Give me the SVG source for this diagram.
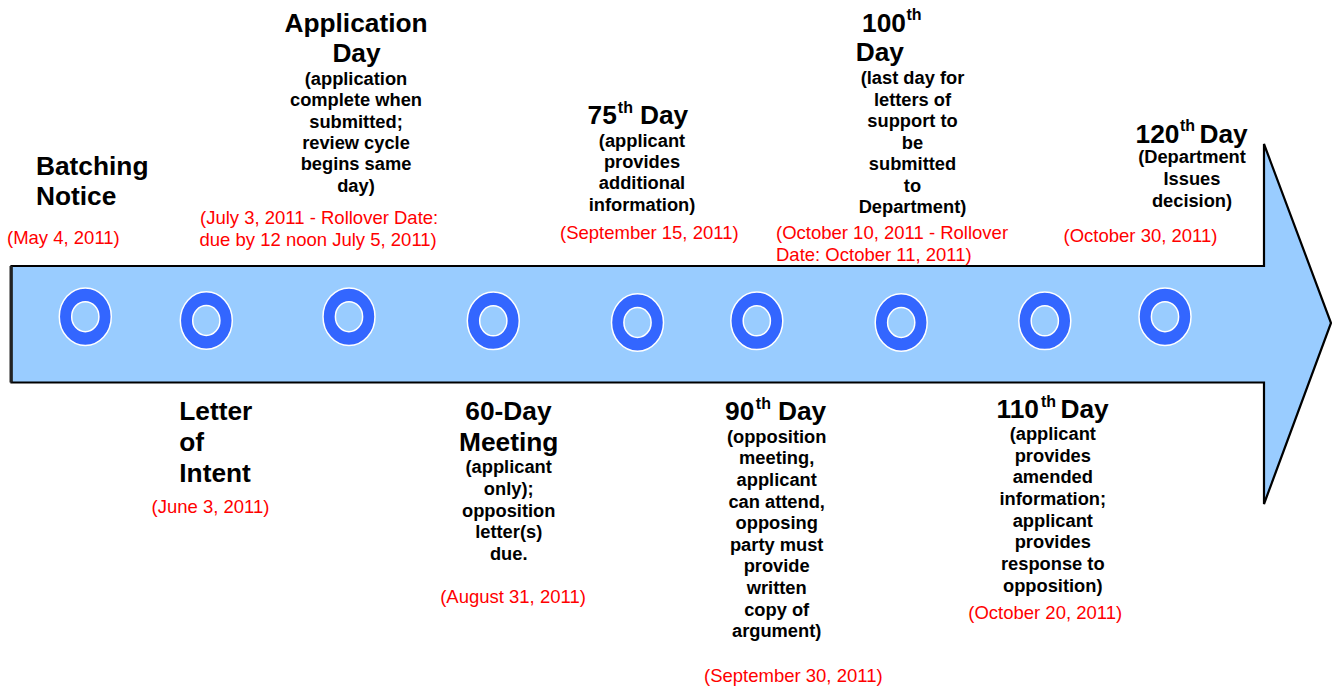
<svg xmlns="http://www.w3.org/2000/svg" width="1332" height="688" viewBox="0 0 1332 688">
<style>
text{font-family:"Liberation Sans",Arial,sans-serif;fill:#000}
.t{font-size:26.3px;font-weight:bold}
.d{font-size:18.3px;font-weight:bold;text-anchor:middle}
.r{font-size:18.5px;fill:#FF0000}
.rc{font-size:18.5px;fill:#FF0000;text-anchor:middle}
.m{text-anchor:middle}
.sup{font-size:16px;font-weight:bold}
.ring{fill:#3366FF;stroke:#FFFFFF;stroke-width:1.5}
.hole{fill:#99CCFF;stroke:#FFFFFF;stroke-width:1.5}
</style>
<defs>
<clipPath id="aboveArrow"><rect x="0" y="0" width="1332" height="265"/></clipPath>
</defs>
<rect width="1332" height="688" fill="#FFFFFF"/>

<g id="timeline-arrow">
<polygon points="11.5,266 1264,266 1264,144 1331,323 1264,504 1264,382.5 11.5,382.5" fill="#99CCFF" stroke="#000" stroke-width="2.2" stroke-linejoin="miter"/>
<line x1="11" y1="266" x2="11" y2="382.5" stroke="#222" stroke-width="3"/>
</g>

<g id="connectors"></g>

<g id="batching-notice">
<ellipse class="ring" cx="85.3" cy="316.7" rx="26" ry="28.8"/>
<ellipse class="hole" cx="85.3" cy="316.7" rx="13.6" ry="15"/>
<text class="t" x="36" y="175">Batching</text>
<text class="t" x="36" y="205">Notice</text>
<text class="r" x="7" y="244">(May 4, 2011)</text>
</g>

<g id="letter-of-intent">
<ellipse class="ring" cx="206.3" cy="320.5" rx="26" ry="28.8"/>
<ellipse class="hole" cx="206.3" cy="320.5" rx="13.6" ry="15"/>
<text class="t" x="179.3" y="420">Letter</text>
<text class="t" x="179.3" y="450.7">of</text>
<text class="t" x="179.3" y="481.7">Intent</text>
<text class="r" x="151.5" y="513.3">(June 3, 2011)</text>
</g>

<g id="application-day">
<ellipse class="ring" cx="349" cy="316.7" rx="26" ry="28.8"/>
<ellipse class="hole" cx="349" cy="316.7" rx="13.6" ry="15"/>
<text class="t m" x="356" y="32.3">Application</text>
<text class="t m" x="356.5" y="61.5">Day</text>
<text class="d" x="356" y="85">(application</text>
<text class="d" x="356" y="106.4">complete when</text>
<text class="d" x="356" y="127.7">submitted;</text>
<text class="d" x="356" y="149.1">review cycle</text>
<text class="d" x="356" y="170.4">begins same</text>
<text class="d" x="356" y="191.8">day)</text>
<text class="r" x="200" y="224">(July 3, 2011 - Rollover Date:</text>
<text class="r" x="199.5" y="245.7">due by 12 noon July 5, 2011)</text>
</g>

<g id="sixty-day-meeting">
<ellipse class="ring" cx="493.3" cy="320.8" rx="26" ry="28.8"/>
<ellipse class="hole" cx="493.3" cy="320.8" rx="13.6" ry="15"/>
<text class="t m" x="508.4" y="420">60-Day</text>
<text class="t m" x="508.7" y="450.7">Meeting</text>
<text class="d" x="508.7" y="473.3">(applicant</text>
<text class="d" x="508.7" y="494.9">only);</text>
<text class="d" x="508.7" y="516.5">opposition</text>
<text class="d" x="508.7" y="538.1">letter(s)</text>
<text class="d" x="508.7" y="559.7">due.</text>
<text class="rc" x="513" y="602.7">(August 31, 2011)</text>
</g>

<g id="day-75">
<ellipse class="ring" cx="637.5" cy="322.5" rx="26" ry="28.8"/>
<ellipse class="hole" cx="637.5" cy="322.5" rx="13.6" ry="15"/>
<text class="t"><tspan x="587.5" y="124">75</tspan><tspan class="sup" x="617.8" y="112.5">th</tspan><tspan x="640" y="124">Day</tspan></text>
<text class="d" x="642" y="146.7">(applicant</text>
<text class="d" x="642" y="168">provides</text>
<text class="d" x="642" y="189.3">additional</text>
<text class="d" x="642" y="210.6">information)</text>
<text class="rc" x="649.3" y="239.3">(September 15, 2011)</text>
</g>

<g id="day-90">
<ellipse class="ring" cx="756.8" cy="320.8" rx="26" ry="28.8"/>
<ellipse class="hole" cx="756.8" cy="320.8" rx="13.6" ry="15"/>
<text class="t"><tspan x="725" y="420">90</tspan><tspan class="sup" x="755.8" y="408.5">th</tspan><tspan x="778" y="420">Day</tspan></text>
<text class="d" x="776.7" y="442.7">(opposition</text>
<text class="d" x="776.7" y="464.3">meeting,</text>
<text class="d" x="776.7" y="485.9">applicant</text>
<text class="d" x="776.7" y="507.5">can attend,</text>
<text class="d" x="776.7" y="529.1">opposing</text>
<text class="d" x="776.7" y="550.7">party must</text>
<text class="d" x="776.7" y="572.3">provide</text>
<text class="d" x="776.7" y="593.9">written</text>
<text class="d" x="776.7" y="615.5">copy of</text>
<text class="d" x="776.7" y="637.1">argument)</text>
<text class="rc" x="793.3" y="681.7">(September 30, 2011)</text>
</g>

<g id="day-100">
<ellipse class="ring" cx="901.2" cy="322.5" rx="26" ry="28.8"/>
<ellipse class="hole" cx="901.2" cy="322.5" rx="13.6" ry="15"/>
<text class="t"><tspan x="862" y="31.7">100</tspan><tspan class="sup" x="906.5" y="20.2">th</tspan></text>
<text class="t" x="855.7" y="61">Day</text>
<text class="d" x="912.5" y="84.3">(last day for</text>
<text class="d" x="912.5" y="105.8">letters of</text>
<text class="d" x="912.5" y="127.3">support to</text>
<text class="d" x="912.5" y="148.8">be</text>
<text class="d" x="912.5" y="170.3">submitted</text>
<text class="d" x="912.5" y="191.8">to</text>
<text class="d" x="912.5" y="213.3">Department)</text>
<g clip-path="url(#aboveArrow)">
<text class="r" x="776" y="239.3">(October 10, 2011 - Rollover</text>
<text class="r" x="776" y="260.7">Date: October 11, 2011)</text>
</g>
</g>

<g id="day-110">
<ellipse class="ring" cx="1044.8" cy="320.8" rx="26" ry="28.8"/>
<ellipse class="hole" cx="1044.8" cy="320.8" rx="13.6" ry="15"/>
<text class="t"><tspan x="996.5" y="418.3">110</tspan><tspan class="sup" x="1041" y="406.8">th</tspan><tspan x="1060.5" y="418.3">Day</tspan></text>
<text class="d" x="1052.8" y="440">(applicant</text>
<text class="d" x="1052.8" y="461.6">provides</text>
<text class="d" x="1052.8" y="483.3">amended</text>
<text class="d" x="1052.8" y="504.9">information;</text>
<text class="d" x="1052.8" y="526.6">applicant</text>
<text class="d" x="1052.8" y="548.2">provides</text>
<text class="d" x="1052.8" y="569.9">response to</text>
<text class="d" x="1052.8" y="591.5">opposition)</text>
<text class="rc" x="1045.2" y="619.3">(October 20, 2011)</text>
</g>

<g id="day-120">
<ellipse class="ring" cx="1165" cy="316.7" rx="26" ry="28.8"/>
<ellipse class="hole" cx="1165" cy="316.7" rx="13.6" ry="15"/>
<text class="t"><tspan x="1135.5" y="142.5">120</tspan><tspan class="sup" x="1180" y="131">th</tspan><tspan x="1199.5" y="142.5">Day</tspan></text>
<text class="d" x="1192" y="163.3">(Department</text>
<text class="d" x="1192" y="185">Issues</text>
<text class="d" x="1192" y="206.7">decision)</text>
<text class="rc" x="1140.5" y="241.7">(October 30, 2011)</text>
</g>
</svg>
